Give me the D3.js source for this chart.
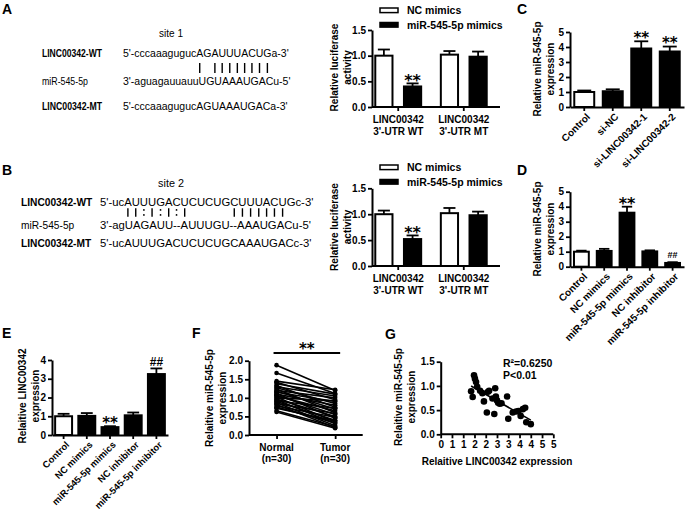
<!DOCTYPE html>
<html lang="en">
<head>
  <meta charset="UTF-8">
  <title>LINC00342 / miR-545-5p</title>
  <style>
    body { margin: 0; background: #fff; }
  </style>
</head>
<body>
<script src="https://d3js.org/d3.v7.min.js"></script>
<script>
  // ---------- data ----------
  const rowLabels = ["LINC00342-WT", "miR-545-5p", "LINC00342-MT"];
  const site1 = "site 1";
  const site1Seqs = ["5'-cccaaagugucAGAUUUACUGa-3'", "3'-aguagauuauuUGUAAAUGACu-5'", "5'-cccaaagugucAGUAAAUGACa-3'"];
  const site1Pairs = " ".repeat(14) + "| ||||||||";
  const site2 = "site 2";
  const site2Seqs = ["5'-ucAUUUGACUCUCUGCUUUACUGc-3'", "3'-agUAGAUU--AUUUGU--AAAUGACu-5'", "5'-ucAUUUGACUCUCUGCAAAUGACc-3'"];
  const site2Pairs = " ".repeat(5) + "||:|:|:|" + " ".repeat(5) + "|||||||";

  const lucSeries = ["NC mimics", "miR-545-5p mimics"];
  const lucGene = "LINC00342";
  const lucGroups = ["3'-UTR WT", "3'-UTR MT"];
  const lucTicks = [0, 0.5, 1.0, 1.5];
  const lucA_nc = [1.00, 1.02], lucA_ncSd = [0.12, 0.07];
  const lucA_mir = [0.40, 0.98], lucA_mirSd = [0.06, 0.10];
  const lucB_nc = [1.00, 1.02], lucB_ncSd = [0.07, 0.10];
  const lucB_mir = [0.52, 0.98], lucB_mirSd = [0.07, 0.07];
  const lucMirSig = ["**", ""];

  const siCats = ["Control", "si-NC", "si-LINC00342-1", "si-LINC00342-2"];
  const siMean = [1.00, 1.05, 3.90, 3.70];
  const siSd = [0.10, 0.13, 0.48, 0.33];
  const siSig = ["", "", "**", "**"];

  const treatCats = ["Control", "NC mimics", "miR-545-5p mimics", "NC inhibitor", "miR-545-5p inhibitor"];
  const dMean = [1.00, 1.05, 3.60, 1.02, 0.25];
  const dSd = [0.07, 0.14, 0.40, 0.07, 0.05];
  const dSig = ["", "", "**", "", "##"];
  const eMean = [1.00, 1.02, 0.42, 1.05, 3.25];
  const eSd = [0.13, 0.15, 0.05, 0.15, 0.30];
  const eSig = ["", "", "**", "", "##"];
  const fiveTicks = [0, 1, 2, 3, 4, 5];
  const fourTicks = [0, 1, 2, 3, 4];

  const fCats = ["Normal", "Tumor"];
  const fN = [30, 30];
  const fNormal = [1.88, 1.67, 1.45, 1.42, 1.38, 1.33, 1.30, 1.27, 1.24, 1.20, 1.18, 1.15, 1.12, 1.10, 1.07,
                   1.05, 1.02, 1.00, 0.97, 0.95, 0.92, 0.90, 0.87, 0.85, 0.82, 0.78, 0.75, 0.72, 0.65, 0.62];
  const fTumor = [1.20, 1.12, 1.22, 0.95, 1.10, 0.75, 1.05, 0.85, 0.60, 1.00, 0.70, 0.90, 0.45, 0.80, 0.55,
                  0.65, 0.35, 0.92, 0.50, 0.30, 0.72, 0.40, 0.25, 0.58, 0.20, 0.48, 0.33, 0.38, 0.22, 0.18];
  const fTicks = [0, 0.5, 1.0, 1.5, 2.0];

  const gLinc = [1.35, 1.42, 1.48, 1.52, 1.57, 1.62, 1.75, 1.85, 1.92, 2.05, 2.10, 2.15, 2.30, 2.38, 2.42,
                 2.45, 2.50, 2.55, 2.62, 2.70, 2.95, 3.00, 3.20, 3.35, 3.45, 3.55, 3.65, 3.75, 3.80, 4.00];
  const gMir = [0.89, 0.77, 1.22, 1.15, 1.08, 0.98, 0.90, 0.85, 0.68, 0.45, 0.88, 0.90, 0.74, 0.42, 0.95,
                0.78, 0.70, 0.65, 0.63, 0.64, 0.78, 0.32, 0.45, 0.47, 0.48, 0.38, 0.52, 0.55, 0.25, 0.21];
  const gR2 = "R\u00B2=0.6250";
  const gP = "P<0.01";

  // ---------- helpers ----------
  const root = d3.select("body").append("svg")
          .attr("width", 685).attr("height", 514)
          .attr("font-family", "'Liberation Sans', Arial, Helvetica, sans-serif")
          .attr("fill", "#000");

  function styleAxis(ax) {
    ax.attr("font-family", null).attr("font-size", 10).attr("font-weight", "bold");
    ax.select(".domain").attr("stroke-width", 2);
    ax.selectAll(".tick line").attr("stroke-width", 1.8);
  }
  function yAxis(g, y, x, ticks, fmt) {
    const ax = g.append("g").attr("transform", `translate(${x},0)`)
            .call(d3.axisLeft(y).tickValues(ticks).tickFormat(fmt).tickSize(4).tickSizeOuter(0).tickPadding(2));
    styleAxis(ax);
    return ax;
  }
  function xAxis(g, x, yPos, fmt) {
    const ax = g.append("g").attr("transform", `translate(0,${yPos})`)
            .call(d3.axisBottom(x).tickSize(4).tickSizeOuter(0).tickFormat(fmt || (() => "")));
    styleAxis(ax);
    return ax;
  }
  function yTitle(g, lines, x, cy) {
    lines.forEach((l, i) => {
      g.append("text")
              .attr("transform", `translate(${x + i * 13},${cy}) rotate(-90)`)
              .attr("text-anchor", "middle").attr("dy", "0.35em")
              .attr("font-size", 10).attr("font-weight", "bold").text(l);
    });
  }
  function sigText(g, s, cx, cy, size) {
    const star = s[0] === "*";
    g.append("text").attr("x", cx).attr("y", cy + (star ? 0.59 : 0.36) * size)
            .attr("text-anchor", "middle").attr("font-weight", "bold")
            .attr("font-family", star ? "'DejaVu Sans', sans-serif" : null)
            .attr("font-size", size).text(s);
  }
  function drawBars(g, items, y, sigSize, hashSize) {
    const eb = g.append("g").attr("stroke", "#000").attr("stroke-width", 1.8);
    eb.selectAll(".v").data(items).join("line")
            .attr("x1", d => d.x + d.w / 2).attr("x2", d => d.x + d.w / 2)
            .attr("y1", d => y(d.m)).attr("y2", d => y(d.m + d.sd));
    eb.selectAll(".c").data(items).join("line")
            .attr("x1", d => d.x + d.w * 0.15).attr("x2", d => d.x + d.w * 0.85)
            .attr("y1", d => y(d.m + d.sd)).attr("y2", d => y(d.m + d.sd));
    g.append("g").selectAll("rect").data(items).join("rect")
            .attr("x", d => d.x).attr("y", d => y(d.m))
            .attr("width", d => d.w).attr("height", d => y(0) - y(d.m))
            .attr("fill", d => d.fill).attr("stroke", "#000").attr("stroke-width", 2);
    items.filter(d => d.sig).forEach(d => {
      sigText(g, d.sig, d.x + d.w / 2, y(d.m + d.sd) - 7, d.sig[0] === "*" ? sigSize : hashSize);
    });
  }
  function letter(t, x, y) {
    root.append("text").attr("x", x).attr("y", y).attr("font-size", 14).attr("font-weight", "bold").text(t);
  }

  // ---------- sequence panels ----------
  function sitePanel(o) {
    const g = root.append("g");
    g.append("text").attr("x", o.siteX).attr("y", o.ys[0]).attr("text-anchor", "middle")
            .attr("font-size", o.seqSize - 0.5).text(o.site);
    const rowY = [o.ys[1], o.ys[3], o.ys[4]];
    let wtNode;
    rowLabels.forEach((l, i) => {
      const lt = g.append("text").attr("x", o.labelX).attr("y", rowY[i]).attr("font-size", o.labelSize)
              .attr("font-weight", i === 1 ? "normal" : "bold").text(l);
      if (o.labelW) lt.attr("textLength", o.labelW[i]).attr("lengthAdjust", "spacingAndGlyphs");
      const t = g.append("text").attr("x", o.seqX).attr("y", rowY[i]).attr("font-size", o.seqSize).text(o.seqs[i]);
      if (i === 0) wtNode = t.node();
    });
    // base-pairing marks under the WT sequence characters
    const marks = g.append("g").attr("stroke", "#000").attr("stroke-width", 1.4);
    const my = o.ys[2];
    for (let i = 0; i < o.pairs.length; i++) {
      const ch = o.pairs[i];
      if (ch === " ") continue;
      const ext = wtNode.getExtentOfChar(i);
      const cx = ext.x + ext.width / 2;
      if (ch === "|") {
        marks.append("line").attr("x1", cx).attr("x2", cx).attr("y1", my - o.markH / 2).attr("y2", my + o.markH / 2);
      } else {
        marks.append("circle").attr("cx", cx).attr("cy", my - 2.6).attr("r", 0.9).attr("stroke", "none");
        marks.append("circle").attr("cx", cx).attr("cy", my + 2.4).attr("r", 0.9).attr("stroke", "none");
      }
    }
  }
  sitePanel({site: site1, seqs: site1Seqs, pairs: site1Pairs, siteX: 171, labelX: 42, seqX: 123,
    labelSize: 10, labelW: [60, 46, 60], seqSize: 10.5, markH: 10, ys: [37, 57, 68, 85, 109.5]});
  sitePanel({site: site2, seqs: site2Seqs, pairs: site2Pairs, siteX: 171, labelX: 21, seqX: 100,
    labelSize: 10.2, seqSize: 11.3, markH: 8.5, ys: [187, 205.5, 212.5, 228.5, 247]});

  // ---------- luciferase panels ----------
  function lucPanel(o) {
    const g = root.append("g");
    const x0 = d3.scaleBand().domain(lucGroups).range([372, 490]).paddingInner(0.3).paddingOuter(0.05);
    const x1 = d3.scaleBand().domain(lucSeries).range([0, x0.bandwidth()]).paddingInner(0.4);
    const y = d3.scaleLinear().domain([0, 1.5]).range(o.yr);
    const items = [];
    lucGroups.forEach((grp, i) => {
      items.push({x: x0(grp) + x1(lucSeries[0]), w: x1.bandwidth(), m: o.nc[i], sd: o.ncSd[i], fill: "#fff"});
      items.push({x: x0(grp) + x1(lucSeries[1]), w: x1.bandwidth(), m: o.mir[i], sd: o.mirSd[i], fill: "#000", sig: lucMirSig[i]});
    });
    drawBars(g, items, y, 16, 12);
    yAxis(g, y, 372, lucTicks, d3.format(".1f"));
    const ax = xAxis(g, x0, y(0));
    ax.select(".domain").attr("d", "M372,0H500");
    lucGroups.forEach(grp => {
      const cx = x0(grp) + x0.bandwidth() / 2;
      [lucGene, grp].forEach((t, k) => {
        g.append("text").attr("x", cx).attr("y", y(0) + 15.5 + k * 12.5).attr("text-anchor", "middle")
                .attr("font-size", 10).attr("font-weight", "bold").text(t);
      });
    });
    yTitle(g, ["Relative luciferase", "activity"], 334, o.titleY);
    // legend
    lucSeries.forEach((s, i) => {
      const ly = o.legendY + i * 14.5;
      g.append("rect").attr("x", 380).attr("y", ly - 2.3).attr("width", 18).attr("height", 4.6)
              .attr("fill", i ? "#000" : "#fff").attr("stroke", "#000").attr("stroke-width", 1.5);
      g.append("text").attr("x", 407).attr("y", ly + 3.8).attr("font-size", 10.5).attr("font-weight", "bold").text(s);
    });
  }
  lucPanel({nc: lucA_nc, ncSd: lucA_ncSd, mir: lucA_mir, mirSd: lucA_mirSd, yr: [107, 30], titleY: 67.5, legendY: 10.3});
  lucPanel({nc: lucB_nc, ncSd: lucB_ncSd, mir: lucB_mir, mirSd: lucB_mirSd, yr: [266, 188.3], titleY: 227, legendY: 167.3});

  // ---------- single bar panels ----------
  function barPanel(o) {
    const g = root.append("g");
    const x = d3.scaleBand().domain(o.cats).range(o.xr).paddingInner(o.pad).paddingOuter(o.pad / 2);
    const y = d3.scaleLinear().domain([0, o.ymax]).range(o.yr);
    const items = o.cats.map((c, i) => ({x: x(c), w: x.bandwidth(), m: o.mean[i], sd: o.sd[i],
      fill: i === 0 ? "#fff" : "#000", sig: o.sig[i]}));
    drawBars(g, items, y, o.sigSize, o.hashSize);
    yAxis(g, y, o.xr[0], o.ticks, d3.format("d"));
    const ax = xAxis(g, x, y(0), d => d);
    ax.selectAll(".tick text").attr("x", 0).attr("y", 0).attr("dy", "0.35em")
            .attr("font-size", o.labelSize || 10)
            .attr("transform", "translate(4,8) rotate(-45)").attr("text-anchor", "end");
    yTitle(g, o.title, o.titleX, o.titleY);
  }
  barPanel({cats: siCats, mean: siMean, sd: siSd, sig: siSig, xr: [570, 684], pad: 0.3, ymax: 5, yr: [107, 32],
    ticks: fiveTicks, title: ["Relative miR-545-5p", "expression"], titleX: 537, titleY: 69, sigSize: 15, hashSize: 9});
  barPanel({cats: treatCats, mean: dMean, sd: dSd, sig: dSig, xr: [570, 684], pad: 0.35, ymax: 5, yr: [266.7, 191.7],
    ticks: fiveTicks, title: ["Relative miR-545-5p", "expression"], titleX: 537, titleY: 229, sigSize: 16, hashSize: 9});
  barPanel({cats: treatCats, mean: eMean, sd: eSd, sig: eSig, xr: [52, 168], pad: 0.27, ymax: 4, yr: [435, 360],
    ticks: fourTicks, title: ["Relaitive LINC00342", "expression"], titleX: 22, titleY: 396, sigSize: 15, hashSize: 12,
    labelSize: 9.4});

  // ---------- F: paired lines ----------
  (function () {
    const g = root.append("g");
    const x = d3.scalePoint().domain(fCats).range([249, 362.7]).padding(0.47);
    const y = d3.scaleLinear().domain([0, 2]).range([435, 360.7]);
    const pairs = fNormal.map((v, i) => [v, fTumor[i]]);
    g.append("g").selectAll("line").data(pairs).join("line")
            .attr("x1", x(fCats[0])).attr("x2", x(fCats[1]))
            .attr("y1", d => y(d[0])).attr("y2", d => y(d[1]))
            .attr("stroke", "#000").attr("stroke-width", 1.6);
    g.append("g").selectAll("circle").data(pairs.flatMap(d => [[fCats[0], d[0]], [fCats[1], d[1]]])).join("circle")
            .attr("cx", d => x(d[0])).attr("cy", d => y(d[1])).attr("r", 2.3);
    yAxis(g, y, 249, fTicks, d3.format(".1f"));
    const ax = xAxis(g, x, y(0));
    ax.select(".domain").attr("d", "M249,0H362.7");
    fCats.forEach((c, i) => {
      [c, `(n=${fN[i]})`].forEach((t, k) => {
        g.append("text").attr("x", x(c)).attr("y", y(0) + 15.5 + k * 11.5).attr("text-anchor", "middle")
                .attr("font-size", 10).attr("font-weight", "bold").text(t);
      });
    });
    g.append("line").attr("x1", x(fCats[0]) - 3).attr("x2", x(fCats[1]) + 5)
            .attr("y1", 353).attr("y2", 353).attr("stroke", "#000").attr("stroke-width", 1.8);
    sigText(g, "**", (x(fCats[0]) + x(fCats[1])) / 2 + 1, 345, 15);
    yTitle(g, ["Relaitive miR-545-5p", "expression"], 209, 398);
  })();

  // ---------- G: correlation ----------
  (function () {
    const g = root.append("g");
    const x = d3.scaleLinear().domain([0, 5]).range([440.7, 553.3]);
    const y = d3.scaleLinear().domain([0, 1.5]).range([434.3, 361.7]);
    const mx = d3.mean(gLinc), my = d3.mean(gMir);
    const slope = d3.sum(gLinc, (v, i) => (v - mx) * (gMir[i] - my)) / d3.sum(gLinc, v => (v - mx) ** 2);
    const icpt = my - slope * mx;
    const ext = d3.extent(gLinc);
    g.append("g").selectAll("circle").data(gLinc).join("circle")
            .attr("cx", d => x(d)).attr("cy", (d, i) => y(gMir[i])).attr("r", 3.3);
    g.append("line").attr("x1", x(ext[0])).attr("x2", x(ext[1]))
            .attr("y1", y(icpt + slope * ext[0])).attr("y2", y(icpt + slope * ext[1]))
            .attr("stroke", "#000").attr("stroke-width", 1.6);
    yAxis(g, y, 440.7, lucTicks, d3.format(".1f"));
    xAxis(g, x, 434.3, d3.format("d")).call(ax => ax.select(".domain").attr("d", "M440.7,0H553.3"));
    g.append("text").attr("x", 497).attr("y", 464.5).attr("text-anchor", "middle")
            .attr("font-size", 10).attr("font-weight", "bold").text("Relaitive LINC00342 expression");
    g.append("text").attr("x", 503).attr("y", 366.6).attr("font-size", 10.5).attr("font-weight", "bold").text(gR2);
    g.append("text").attr("x", 503).attr("y", 378.6).attr("font-size", 10.5).attr("font-weight", "bold").text(gP);
    yTitle(g, ["Relaitive miR-545-5p", "expression"], 398, 397);
  })();

  letter("A", 2, 14);
  letter("B", 2, 175);
  letter("C", 517, 14);
  letter("D", 517, 175);
  letter("E", 2, 338);
  letter("F", 192, 338);
  letter("G", 385, 339);
</script>
</body>
</html>
